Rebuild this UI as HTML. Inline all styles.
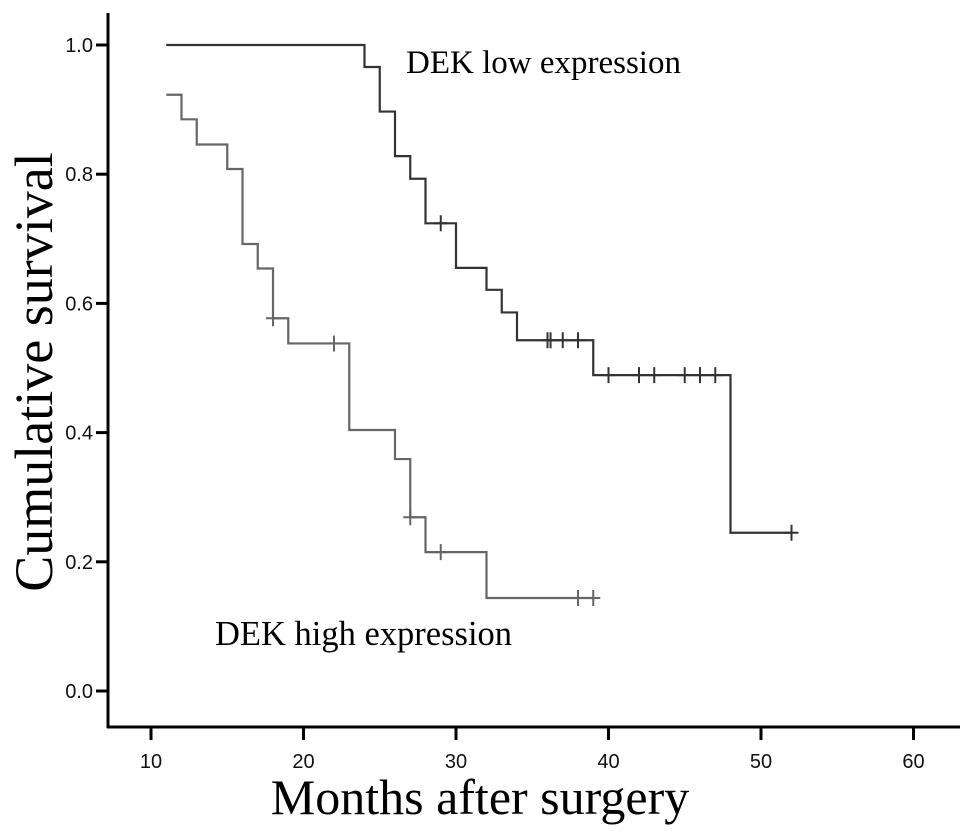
<!DOCTYPE html>
<html><head><meta charset="utf-8"><style>
body{margin:0;background:#fff}
svg{display:block}
.tk{font-family:"Liberation Sans",sans-serif;font-size:20px;fill:#111}
.ser{font-family:"Liberation Serif",serif;fill:#000}
</style></head><body>
<svg id="chart" width="969" height="835">
<g id="axes"></g><g id="plot"></g>
<text class="ser" x="406" y="73" font-size="33">DEK low expression</text>
<text class="ser" x="215" y="645" font-size="34.5">DEK high expression</text>
<text class="ser" font-size="54" text-anchor="middle" transform="translate(52,372) rotate(-90)">Cumulative survival</text>
<text class="ser" font-size="50" text-anchor="middle" x="480" y="814">Months after surgery</text>
</svg>
<script>
const xTicks=[10,20,30,40,50,60];
const yTicks=[0.0,0.2,0.4,0.6,0.8,1.0];
const lowTimes=[11,24,25,26,27,28,30,32,33,34,39,48];
const lowSurv=[1.0,0.966,0.897,0.828,0.793,0.724,0.655,0.621,0.586,0.543,0.489,0.245];
const lowEnd=52;
const lowCensorT=[29,36,36.2,37,38,40,42,43,45,46,47,52];
const highTimes=[11,12,13,15,16,17,18,19,23,26,27,28,32];
const highSurv=[0.923,0.885,0.846,0.808,0.692,0.654,0.577,0.538,0.404,0.359,0.269,0.215,0.144];
const highEnd=39;
const highCensorT=[18,22,27,29,38,39];
const X=v=>151+(v-10)*15.25;
const Y=v=>691-646*v;
const NS="http://www.w3.org/2000/svg";
function mk(t,a,p){const e=document.createElementNS(NS,t);for(const k in a)e.setAttribute(k,a[k]);p.appendChild(e);return e;}
const ax=document.getElementById('axes'),pl=document.getElementById('plot');
const yl=mk('line',{x1:108,y1:13,x2:108,y2:728,stroke:'#000','stroke-width':3},ax);


const xl=mk('line',{x1:107,y1:727,x2:960,y2:727,stroke:'#000','stroke-width':3},ax);


xTicks.forEach(t=>{
 const l=mk('line',{x1:X(t),y1:727,x2:X(t),y2:740,stroke:'#000','stroke-width':3},ax);
 
 
 const tx=mk('text',{x:X(t),y:768,'text-anchor':'middle',class:'tk'},ax);tx.textContent=t;
 
 
});
yTicks.forEach(t=>{
 const l=mk('line',{x1:96,y1:Y(t),x2:108,y2:Y(t),stroke:'#000','stroke-width':3},ax);
 
 
 const tx=mk('text',{x:93,y:Y(t)+7,'text-anchor':'end',class:'tk'},ax);tx.textContent=t.toFixed(1);
 
 
});
function curve(times,surv,end,cens,color,name){
 let d='M'+X(times[0])+' '+Y(surv[0]);
 for(let i=1;i<times.length;i++){d+=' H'+X(times[i])+' V'+Y(surv[i]);}
 d+=' H'+X(end);
 const p=mk('path',{d:d,fill:'none',stroke:color,'stroke-width':2.2},pl);
 
 
 cens.forEach(c=>{
  let s=surv[0];for(let i=0;i<times.length;i++)if(times[i]<=c)s=surv[i];
  const m=mk('path',{d:'M'+(X(c)-7)+' '+Y(s)+' H'+(X(c)+7)+' M'+X(c)+' '+(Y(s)-8)+' V'+(Y(s)+8),stroke:color,'stroke-width':2,fill:'none'},pl);
  
  
 });
}
curve(lowTimes,lowSurv,lowEnd,lowCensorT,'#333','low-expression');
curve(highTimes,highSurv,highEnd,highCensorT,'#666','high-expression');
</script>
</body></html>
